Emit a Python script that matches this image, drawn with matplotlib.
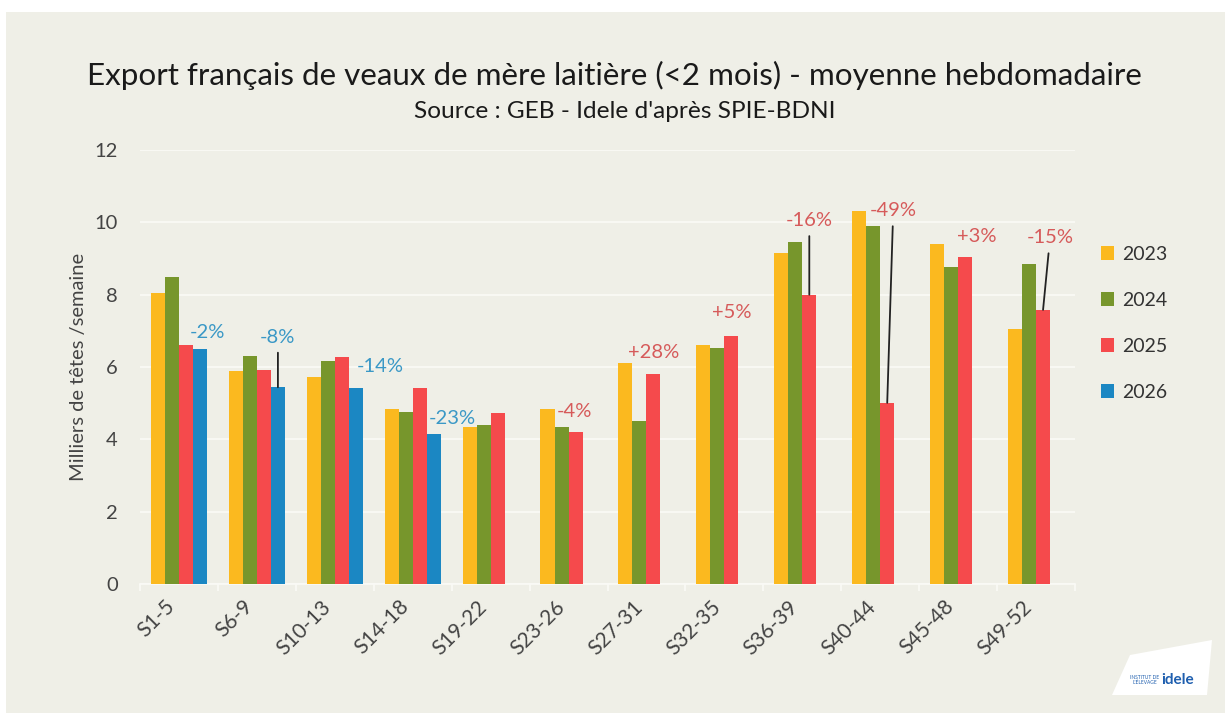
import numpy as np
import matplotlib.pyplot as plt
from matplotlib.patches import Patch, Rectangle, Polygon

periods = ["S1-5", "S6-9", "S10-13", "S14-18", "S19-22", "S23-26",
           "S27-31", "S32-35", "S36-39", "S40-44", "S45-48", "S49-52"]
years = ["2023", "2024", "2025", "2026"]
v2023 = [8.05, 5.90, 5.73, 4.85, 4.33, 4.85, 6.10, 6.61, 9.14, 10.32, 9.39, 7.04]
v2024 = [8.48, 6.31, 6.17, 4.76, 4.40, 4.35, 4.52, 6.53, 9.46, 9.90, 8.76, 8.85]
v2025 = [6.61, 5.93, 6.27, 5.41, 4.74, 4.19, 5.80, 6.86, 8.00, 5.01, 9.05, 7.58]
v2026 = [6.49, 5.44, 5.41, 4.14, np.nan, np.nan, np.nan, np.nan, np.nan, np.nan, np.nan, np.nan]
series = [v2023, v2024, v2025, v2026]
colors = ["#FBB91F", "#77962C", "#F54A4C", "#1B87C3"]

# (period index, series index, label, dx px, dy px above bar, leader line)
labels = [
    (0, 3, "-2%", 7, 17, False),
    (1, 3, "-8%", 0, 50, True),
    (2, 3, "-14%", 24, 22, False),
    (3, 3, "-23%", 19, 16, False),
    (5, 2, "-4%", -1, 21, False),
    (6, 2, "+28%", 0, 22, False),
    (7, 2, "+5%", 0, 23, False),
    (8, 2, "-16%", 0, 74, True),
    (9, 2, "-49%", 6, 192, True),
    (10, 2, "+3%", 12, 20, False),
    (11, 2, "-15%", 7, 72, True),
]
label_colors = {2: "#D65A5A", 3: "#3A98C6"}

bg = "#EFEFE7"
fig = plt.figure(figsize=(12.28, 7.13), dpi=100, facecolor="white")
fig.patches.append(Rectangle((6 / 1228, 0), 1219 / 1228, 1 - 12 / 713,
                             transform=fig.transFigure, facecolor=bg,
                             edgecolor="none", zorder=-10))

ax = fig.add_axes([140 / 1228, 129 / 713, 935 / 1228, 434 / 713])
ax.set_facecolor("none")

x = np.arange(len(periods))
w = 0.18
for j, vals in enumerate(series):
    ax.bar(x + (j - 1.5) * w, vals, width=w, color=colors[j], zorder=3)

for i, j, txt, dx, dy, leader in labels:
    bx = x[i] + (j - 1.5) * w
    by = series[j][i]
    col = label_colors[j]
    ax.annotate(txt, xy=(bx, by), xytext=(dx, dy), textcoords="offset pixels",
                ha="center", va="center", fontsize=14.5, color=col,
                family="Lato", zorder=5,
                arrowprops=dict(arrowstyle="-", color="#222222", lw=1.3,
                                shrinkA=3, shrinkB=0) if leader else None)

ax.set_xlim(-0.5, len(periods) - 0.5)
ax.set_ylim(0, 12)
ax.set_yticks(range(0, 13, 2))
ax.grid(axis="y", color="#FAFAF6", lw=1.2, zorder=0)
ax.set_xticks(x)
ax.set_xticklabels(periods, rotation=45, ha="right", fontsize=15,
                   color="#444444", family="Lato")
ax.set_xticks(np.arange(-0.5, len(periods)), minor=True)
ax.tick_params(axis="x", which="major", length=0, pad=9)
ax.tick_params(axis="x", which="minor", length=5, color="#FAFAF6", width=1.2)
ax.tick_params(axis="y", length=0, pad=16, labelsize=14.5, labelcolor="#444444")
for lab in ax.get_yticklabels():
    lab.set_family("Lato")
for s in ["top", "right", "left"]:
    ax.spines[s].set_visible(False)
ax.spines["bottom"].set_color("#FAFAF6")
ax.spines["bottom"].set_linewidth(1.2)
ax.set_ylabel("Milliers de têtes /semaine", fontsize=14.5, color="#444444",
              family="Lato", labelpad=5)

handles = [Patch(facecolor=c, edgecolor="none") for c in colors]
fig.legend(handles, years, loc="upper left", bbox_to_anchor=(1083 / 1228, 1 - 228 / 713),
           frameon=False, handlelength=0.7, handleheight=0.7, handletextpad=0.4,
           labelspacing=1.5, prop={"family": "Lato", "size": 14},
           labelcolor="#333333")

title = fig.text(614 / 1228, 1 - 75 / 713,
                 "Export français de veaux de mère laitière (<2 mois) - moyenne hebdomadaire",
                 ha="center", va="center", fontsize=22, color="#1A1A1A", family="Lato")
sub = fig.text(625 / 1228, 1 - 112 / 713, "Source : GEB - Idele d'après SPIE-BDNI",
               ha="center", va="center", fontsize=15, color="#1A1A1A", family="Lato")
# fit title/subtitle widths to the reference
renderer = fig.canvas.get_renderer()
for t, target in [(title, 1052), (sub, 420)]:
    wpx = t.get_window_extent(renderer).width
    t.set_fontsize(t.get_fontsize() * target / wpx)

# logo
fig.patches.append(Polygon([(1112 / 1228, 1 - 695 / 713), (1207 / 1228, 1 - 695 / 713),
                            (1212 / 1228, 1 - 640 / 713), (1130 / 1228, 1 - 655 / 713)],
                           closed=True, transform=fig.transFigure,
                           facecolor="white", edgecolor="none"))
fig.text(1178 / 1228, 1 - 680 / 713, "idele", ha="center", va="center",
         fontsize=11, fontweight="bold", color="#1F5FAF", family="Lato")
fig.text(1145 / 1228, 1 - 680 / 713, "INSTITUT DE\nL'ÉLEVAGE", ha="center",
         va="center", fontsize=3.5, color="#1F5FAF", family="Lato", linespacing=1.0)

fig.savefig("out.png", dpi=100, facecolor="white")
